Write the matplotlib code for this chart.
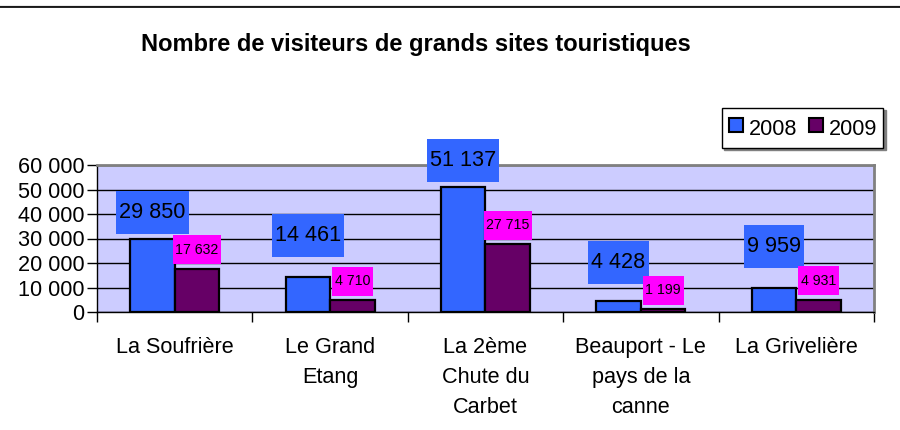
import matplotlib
matplotlib.use('Agg')
import matplotlib.pyplot as plt
import numpy as np
from matplotlib.patches import Rectangle
from matplotlib.transforms import IdentityTransform
from matplotlib.lines import Line2D

plt.rcParams['font.family'] = ['Liberation Sans', 'DejaVu Sans']

# ---------------- data ----------------
sites = ["La Soufrière", "Le Grand\nEtang", "La 2ème\nChute du\nCarbet",
         "Beauport - Le\npays de la\ncanne", "La Grivelière"]
visitors_2008 = [29850, 14461, 51137, 4428, 9959]
visitors_2009 = [17632, 4710, 27715, 1199, 4931]
y_ticks = [0, 10000, 20000, 30000, 40000, 50000, 60000]
series_names = ["2008", "2009"]
title = "Nombre de visiteurs de grands sites touristiques"

# ---------------- style / layout ----------------
c2008 = '#3366FF'
c2009 = '#660066'
lab_bg_2009 = '#FF00FF'
plot_bg = '#CCCCFF'
label_lift_2008 = [26, 41, 26, 39, 41]   # px, label centre above bar top
label_lift_2009 = [19, 19, 19, 19, 19]
FS = 15.6

def fmt(v):
    return f"{v:,}".replace(",", " ")

fig = plt.figure(figsize=(9, 4.3), dpi=100)
W, H = 900, 430
ax = fig.add_axes([97 / W, 1 - 312 / H, 777 / W, 147 / H])
ax.set_facecolor(plot_bg)

x = np.arange(len(sites))
w = 0.287
ax.bar(x - w / 2, visitors_2008, w, color=c2008, edgecolor='black', linewidth=1.6, zorder=3)
ax.bar(x + w / 2, visitors_2009, w, color=c2009, edgecolor='black', linewidth=1.6, zorder=3)

ax.set_xlim(-0.5, len(sites) - 0.5)
ax.set_ylim(0, 60000)
ax.set_yticks(y_ticks)
ax.set_yticklabels([fmt(v) for v in y_ticks], fontsize=FS)
ax.tick_params(axis='y', length=7, width=1, pad=2, direction='out')
ax.yaxis.grid(True, color='black', linewidth=1)
ax.set_axisbelow(True)

ax.set_xticks(x)
ax.set_xticklabels(sites, fontsize=FS, linespacing=1.55, va='top')
ax.tick_params(axis='x', which='major', length=0, pad=18)
ax.set_xticks(np.arange(-0.5, len(sites), 1), minor=True)
ax.tick_params(axis='x', which='minor', length=7, width=1, direction='out')

for s in ['top', 'right']:
    ax.spines[s].set_color('#808080')
    ax.spines[s].set_linewidth(2)
for s in ['left', 'bottom']:
    ax.spines[s].set_color('black')
    ax.spines[s].set_linewidth(1)

# title
fig.text(416 / W, 1 - 44 / H, title, ha='center', va='center',
         fontsize=17, fontweight='bold')

# top border line
fig.add_artist(Line2D([0, 1], [1 - 5.5 / H] * 2, transform=fig.transFigure,
                      color='#999999', lw=1))
fig.add_artist(Line2D([0, 1], [1 - 7 / H] * 2, transform=fig.transFigure,
                      color='black', lw=1.2))

# data labels with coloured boxes
renderer = fig.canvas.get_renderer()

def add_label(xc, val, lift, fs, bg, pad_w, box_h):
    px, py = ax.transData.transform((xc, val))
    cy = py + lift
    t = fig.text(px, cy, fmt(val), ha='center', va='center', fontsize=fs,
                 transform=IdentityTransform(), zorder=6)
    bb = t.get_window_extent(renderer=renderer)
    bw = bb.width + pad_w
    fig.add_artist(Rectangle((px - bw / 2, cy - box_h / 2), bw, box_h,
                             transform=IdentityTransform(), facecolor=bg,
                             edgecolor='none', zorder=5))

for i in range(len(sites)):
    add_label(x[i] - w / 2, visitors_2008[i], label_lift_2008[i], FS, c2008, 6, 43)
    add_label(x[i] + w / 2, visitors_2009[i], label_lift_2009[i], 10.2, lab_bg_2009, 5, 29)

# legend
handles = [Line2D([], [], marker='s', linestyle='', markersize=10,
                  markerfacecolor=c, markeredgecolor='black', markeredgewidth=1.5)
           for c in (c2008, c2009)]
leg = fig.legend(handles, series_names, loc='center',
                 bbox_to_anchor=(802.5 / W, 1 - 128 / H), ncol=2,
                 fontsize=FS, frameon=True, fancybox=False, edgecolor='black',
                 handlelength=0.7, handleheight=1.5, handletextpad=0.25,
                 columnspacing=0.5, borderpad=0.3,
                 shadow={'ox': 1.5, 'oy': -1.5, 'color': '#808080', 'alpha': 1})
leg.get_frame().set_linewidth(1)

fig.savefig('out.png', dpi=100)
